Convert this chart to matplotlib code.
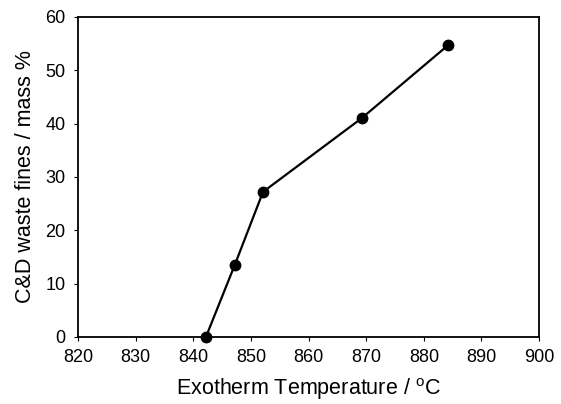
import matplotlib
matplotlib.use("Agg")
import matplotlib.pyplot as plt

temperature = [842.2, 847.2, 852.1, 869.2, 884.2]
fines = [0.0, 13.5, 27.2, 41.0, 54.7]
x_ticks = [820, 830, 840, 850, 860, 870, 880, 890, 900]
y_ticks = [0, 10, 20, 30, 40, 50, 60]

plt.rcParams['font.family'] = ['Liberation Sans', 'DejaVu Sans']
plt.rcParams['mathtext.fontset'] = 'custom'
plt.rcParams['mathtext.rm'] = 'Liberation Sans'

fig = plt.figure(figsize=(5.61, 4.04), dpi=100)
ax = fig.add_axes([0.139, 0.166, 0.822, 0.792])
ax.plot(temperature, fines, color='black', lw=1.6, marker='o', ms=7.5, mfc='black', mec='black', clip_on=False, zorder=3)
ax.set_xlim(820, 900)
ax.set_ylim(0, 60)
ax.set_xticks(x_ticks)
ax.set_yticks(y_ticks)
ax.tick_params(direction='out', length=3, width=0.8, labelsize=13, pad=6)
for s in ax.spines.values():
    s.set_linewidth(1.3)
ax.set_xlabel(r'Exotherm Temperature / $^{\rm o}$C', fontsize=15.5, labelpad=7)
ax.set_ylabel('C&D waste fines / mass %', fontsize=15.5, labelpad=7)
fig.savefig('out.png', dpi=100)
